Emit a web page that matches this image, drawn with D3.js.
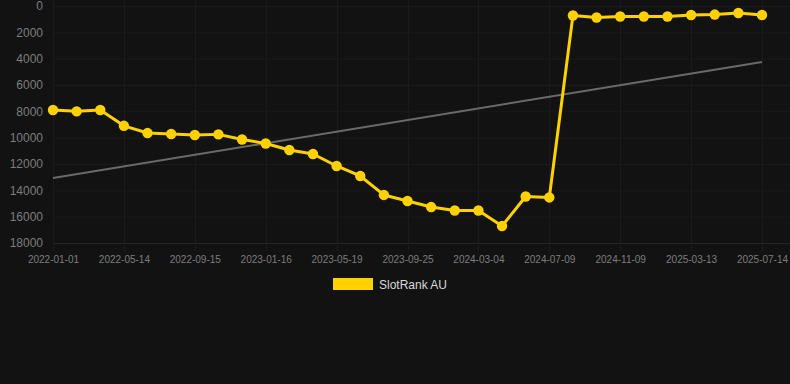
<!DOCTYPE html>
<html>
<head>
<meta charset="utf-8">
<script src="https://cdn.jsdelivr.net/npm/d3@7"></script>
<style>
  html, body { margin: 0; padding: 0; background: #121212; }
  svg { display: block; }
</style>
</head>
<body>
<div id="main"></div>
<script>
// chart data
var tickLabels = ["2022-01-01", "2022-05-14", "2022-09-15", "2023-01-16", "2023-05-19",
    "2023-09-25", "2024-03-04", "2024-07-09", "2024-11-09", "2025-03-13", "2025-07-14"];
var rankValues = [7900, 8000, 7900, 9100, 9650, 9720, 9800, 9750, 10140, 10440,
    10940, 11240, 12150, 12910, 14350, 14810, 15270, 15530, 15530, 16710,
    14470, 14540, 720, 870, 800, 800, 800, 680, 650, 530, 680];
var trendValues = [13070, 4250];
var yTicks = [0, 2000, 4000, 6000, 8000, 10000, 12000, 14000, 16000, 18000];
var seriesName = "SlotRank AU";

var ctx = {
    w: 790,
    h: 384,
    left: 53,
    right: 762,
    top: 6,
    bottom: 243,
    GOLD: "#FFD100",
    GRID: "#1b1b1b",
    TEXT: "#7d7d7d"
};

var createViz = function(){
    var svg = d3.select("#main").append("svg")
        .attr("width", ctx.w)
        .attr("height", ctx.h);
    svg.append("rect").attr("width", ctx.w).attr("height", ctx.h).attr("fill", "#121212");

    var idx = d3.range(rankValues.length);
    var xScale = d3.scalePoint().domain(idx).range([ctx.left, ctx.right]);
    var yScale = d3.scaleLinear().domain([0, 18000]).range([ctx.top, ctx.bottom]);

    // horizontal grid + y labels
    var yAxis = svg.append("g")
        .attr("transform", "translate(" + ctx.left + ",0)")
        .call(d3.axisLeft(yScale).tickValues(yTicks).tickSize(0).tickPadding(10)
            .tickFormat(function(d){ return d; }));
    yAxis.select(".domain").remove();
    yAxis.selectAll("text")
        .style("font-family", "Arial, 'Liberation Sans', sans-serif")
        .style("font-size", "12px")
        .attr("fill", ctx.TEXT);
    svg.append("g").selectAll("line")
        .data(yTicks)
        .enter()
        .append("line")
        .attr("x1", ctx.left)
        .attr("x2", ctx.w)
        .attr("y1", function(d){ return yScale(d) + 0.5; })
        .attr("y2", function(d){ return yScale(d) + 0.5; })
        .style("stroke", function(d){ return d === 18000 ? "#262626" : ctx.GRID; });

    // vertical grid + x labels (every 3rd point)
    var tickIdx = idx.filter(function(i){ return i % 3 === 0; });
    svg.append("g").selectAll("line")
        .data(tickIdx)
        .enter()
        .append("line")
        .attr("x1", function(d){ return Math.round(xScale(d)) + 0.5; })
        .attr("x2", function(d){ return Math.round(xScale(d)) + 0.5; })
        .attr("y1", 0)
        .attr("y2", ctx.bottom + 8)
        .style("stroke", ctx.GRID);
    var xAxis = svg.append("g")
        .attr("transform", "translate(0," + ctx.bottom + ")")
        .call(d3.axisBottom(xScale).tickValues(tickIdx).tickSize(0).tickPadding(13)
            .tickFormat(function(d){ return tickLabels[d / 3]; }));
    xAxis.select(".domain").remove();
    xAxis.selectAll("text")
        .style("font-family", "Arial, 'Liberation Sans', sans-serif")
        .style("font-size", "10px")
        .attr("fill", ctx.TEXT);

    // trend line
    svg.append("line")
        .attr("x1", xScale(0))
        .attr("y1", yScale(trendValues[0]))
        .attr("x2", xScale(idx.length - 1))
        .attr("y2", yScale(trendValues[1]))
        .style("stroke", "#6a6a6a")
        .style("stroke-width", 2);

    // series line
    var line = d3.line()
        .x(function(d, i){ return xScale(i); })
        .y(function(d){ return yScale(d); });
    svg.append("path")
        .datum(rankValues)
        .attr("d", line)
        .attr("fill", "none")
        .style("stroke", ctx.GOLD)
        .style("stroke-width", 3)
        .style("stroke-linejoin", "round");
    svg.append("g").selectAll("circle")
        .data(rankValues)
        .enter()
        .append("circle")
        .attr("cx", function(d, i){ return xScale(i); })
        .attr("cy", function(d){ return yScale(d); })
        .attr("r", 5.2)
        .attr("fill", ctx.GOLD);

    // legend
    svg.append("rect")
        .attr("x", 333).attr("y", 278)
        .attr("width", 40).attr("height", 12)
        .attr("fill", ctx.GOLD);
    svg.append("text")
        .attr("x", 379).attr("y", 288.5)
        .style("font-family", "Arial, 'Liberation Sans', sans-serif")
        .style("font-size", "12px")
        .attr("fill", "#d8d8d8")
        .text(seriesName);
};

createViz();
</script>
</body>
</html>
